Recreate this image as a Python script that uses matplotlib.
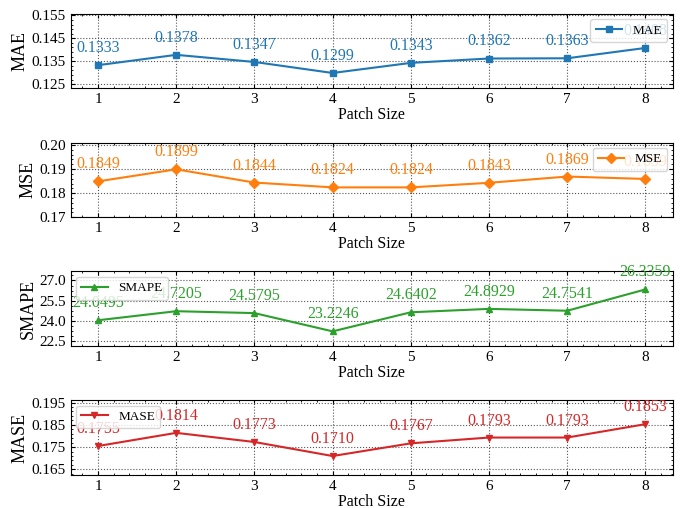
import matplotlib.pyplot as plt

patch_sizes = [1, 2, 3, 4, 5, 6, 7, 8]
mae = [0.1333, 0.1378, 0.1347, 0.1299, 0.1343, 0.1362, 0.1363, 0.1408]
mse = [0.1849, 0.1899, 0.1844, 0.1824, 0.1824, 0.1843, 0.1869, 0.1859]
smape = [24.0495, 24.7205, 24.5795, 23.2246, 24.6402, 24.8929, 24.7541, 26.3359]
mase = [0.1755, 0.1814, 0.1773, 0.1710, 0.1767, 0.1793, 0.1793, 0.1853]

plt.rcParams['font.family'] = ['Liberation Serif', 'DejaVu Serif']
plt.rcParams['xtick.direction'] = 'in'
plt.rcParams['ytick.direction'] = 'in'
plt.rcParams['xtick.top'] = True
plt.rcParams['ytick.right'] = True
plt.rcParams['xtick.minor.visible'] = True
plt.rcParams['ytick.minor.visible'] = True
plt.rcParams['xtick.major.size'] = 3
plt.rcParams['ytick.major.size'] = 3
plt.rcParams['xtick.minor.size'] = 1.5
plt.rcParams['ytick.minor.size'] = 1.5

panels = [
    ('MAE', mae, 'tab:blue', 's', 'upper right', (0.1232, 0.1557), [0.125, 0.135, 0.145, 0.155]),
    ('MSE', mse, 'tab:orange', 'D', 'upper right', (0.17, 0.201), [0.17, 0.18, 0.19, 0.20]),
    ('SMAPE', smape, 'tab:green', '^', 'upper left', (22.13, 27.67), [22.5, 24.0, 25.5, 27.0]),
    ('MASE', mase, 'tab:red', 'v', 'upper left', (0.1625, 0.196), [0.165, 0.175, 0.185, 0.195]),
]

fig, axes = plt.subplots(4, 1, figsize=(6.83, 5.08), dpi=100)
fig.subplots_adjust(left=0.1035, right=0.985, top=0.973, bottom=0.065, hspace=0.726)

for ax, (name, vals, color, marker, loc, ylim, yticks) in zip(axes, panels):
    ax.plot(patch_sizes, vals, color=color, marker=marker, markersize=5, linewidth=1.5, label=name)
    for x, v in zip(patch_sizes, vals):
        ax.annotate(f'{v:.4f}', (x, v), textcoords='offset points', xytext=(0, 6.5),
                    ha='center', va='bottom', color=color, fontsize=11.5)
    ax.set_ylim(*ylim)
    ax.set_yticks(yticks)
    if name == 'MSE':
        ax.set_yticklabels(['0.17', '0.18', '0.19', '0.20'])
    elif name == 'SMAPE':
        ax.set_yticklabels(['22.5', '24.0', '25.5', '27.0'])
    else:
        ax.set_yticklabels([f'{t:.3f}' for t in yticks])
    ax.set_xticks(patch_sizes)
    ax.tick_params(labelsize=11)
    ax.set_xlabel('Patch Size', fontsize=11.5, labelpad=0.5)
    ax.set_ylabel(name, fontsize=13, labelpad=2)
    ax.grid(True, linestyle=':', color='#555555', linewidth=0.8)
    ax.legend(loc=loc, fontsize=9.5, handlelength=2.0, borderaxespad=0.4)

plt.savefig('out.png')
